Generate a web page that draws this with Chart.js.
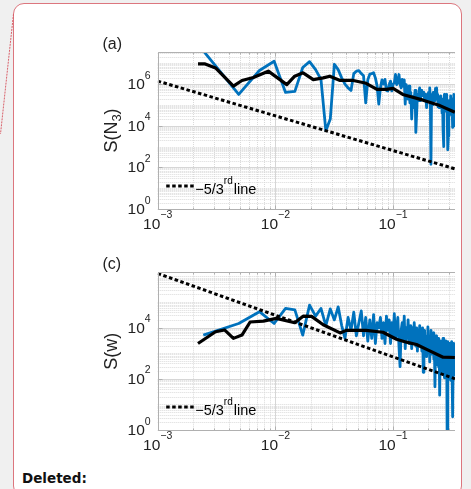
<!DOCTYPE html>
<html>
<head>
<meta charset="utf-8">
<script src="https://cdn.jsdelivr.net/npm/chart.js@4.4.1/dist/chart.umd.min.js"></script>
<style>
  html, body { margin: 0; padding: 0; width: 471px; height: 489px; overflow: hidden; background: #f0f0f0; }
  #frame { position: absolute; left: 13px; top: 3px; width: 447px; height: 492px; border: 1.5px solid #dc767e; border-radius: 11px; background: #fff; }
  #link { position: absolute; left: 0; top: 0; }
  canvas { position: absolute; }
  #c1 { left: 90px; top: 30px; }
  #c2 { left: 90px; top: 250px; }
  #deleted { position: absolute; left: 22px; top: 470px; font: bold 13.5px "DejaVu Sans", sans-serif; color: #111; }
</style>
</head>
<body>
<div id="frame"></div>
<svg id="link" width="20" height="140"><line x1="13.5" y1="14" x2="0.5" y2="134" stroke="#d9606a" stroke-width="1" stroke-dasharray="2 1"/></svg>
<canvas id="c1" width="368" height="210"></canvas>
<canvas id="c2" width="368" height="205"></canvas>
<div id="deleted">Deleted:</div>
<script>
// spectrum is on a uniform frequency grid, k * DF
const DF = 0.00244;

// (a) S(N3): raw spectrum
const blueA = [
  4e7, 3.2e5, 4.5e6, 1.26e7, 4e5, 4.5e5, 6.3e6, 1.2e7, 5e6, 1.7e6,
  5.8e3, 2.1e4, 9e6, 5e6, 2e6, 1e6, 6.6e5, 5e5, 3.2e6, 4.2e6,
  4.5e6, 3.2e6, 2.5e6, 1.26e5, 1.6e6, 3e6, 3.2e6, 3.5e6, 2e6, 8e5,
  1.1e5, 6.6e5, 1.6e6, 1e6, 1.7e6, 5e5, 4.7e5, 9.5e5, 1.4e6, 4.7e5,
  1e6, 1.15e6, 2.9e6, 9.5e5, 1.26e6, 2.9e6, 1e6, 6.6e5, 1.7e6, 8e5,
  1.6e6, 1.1e5, 9.5e5, 4e5, 1.9e5, 8e5, 1.26e5, 4e5, 2.1e4, 2.5e5,
  7.4e4, 2e5, 5e5, 4.8e3, 4e4, 3.2e5, 1.6e5, 4.5e5, 6.6e5, 1.6e5,
  5e5, 2.8e5, 4e5, 2.7e5, 4e5, 1.9e5, 3.2e5, 2e5, 7.4e4, 2.5e5,
  1.6e5, 4e5, 1.6e5, 6.6e5, 2e5, 140, 2e5, 3.2e5, 1e5, 4e5,
  1.9e5, 3.2e5, 1.6e5, 6.3e5, 2.5e5, 6.6e5, 2e5, 3.2e5, 8e4, 2e5,
  7.4e4, 2.5e5, 1e5, 2.7e5, 1.26e5, 1.9e5, 4e4, 1.6e5, 6.3e3, 1e3,
  1.6e5, 3.2e5, 8e4, 2e5, 5e4, 1.26e5, 3.2e5, 6.3e4, 1e4, 700,
  3.2e3, 7.4e4, 1.6e5, 4e4, 1e5, 2.7e5, 6.3e4, 1.26e5, 3.2e4, 1e5,
  8.3e3, 4e4, 2e5, 1.6e4, 3.2e5, 8e4, 1e4
];
// (a) smoothed spectrum
const smoothXA = [0.0022, 0.0025, 0.0031, 0.0044, 0.0052, 0.0065, 0.0087, 0.0125, 0.0146, 0.0172, 0.021, 0.0255, 0.029, 0.0355, 0.046, 0.059, 0.073, 0.088, 0.1, 0.121, 0.18, 0.25, 0.335];
const smoothA = [9.5e6, 9.5e6, 6e6, 8e5, 1.5e6, 2.1e6, 4.2e6, 9.5e5, 2.4e6, 3.5e6, 1.66e6, 2e6, 2.4e6, 1.5e6, 1.5e6, 1.1e6, 5.6e5, 5.6e5, 6.3e5, 3.2e5, 1.7e5, 9.3e4, 4.5e4];

// (c) S(w): raw spectrum
const blueC = [
  5.1e3, 1.45e4, 4.2e4, 1.45e4, 5.6e4, 4.9e4, 5.1e3, 7.6e4, 2.8e4, 5.6e4,
  1.2e4, 5.4e4, 2e4, 6.5e4, 1.2e4, 3.8e3, 2.5e4, 7.8e3, 4e4, 4.8e3,
  1.55e4, 4.5e4, 4.8e3, 2.5e4, 3e3, 2e4, 3.8e3, 3.2e4, 2.4e3, 1.55e4,
  9.8e3, 2.5e4, 3.8e3, 1.55e4, 2.4e3, 2.8e4, 7.8e3, 2e4, 2.4e3, 1.55e4,
  4.8e3, 3.5e4, 3.8e3, 9.8e3, 2.5e4, 1.9e3, 300, 7.8e3, 1.55e4, 3e3,
  2.8e4, 1.5e3, 9.8e3, 3.8e3, 2e4, 2.4e3, 6.2e3, 1.2e4, 1.5e3, 9.8e3,
  2.4e3, 1.55e4, 3.8e3, 1.9e3, 9.8e3, 1.2e3, 6.2e3, 3e3, 1.2e4, 1.9e3,
  4.8e3, 1.2e3, 9.8e3, 180, 3.8e3, 7.8e3, 1.5e3, 4.8e3, 730, 3.8e3,
  1.07e4, 1.2e3, 4.8e3, 460, 2.4e3, 7.8e3, 930, 3.8e3, 1.2e3, 6.2e3,
  580, 2.4e3, 49, 1.2e3, 4.8e3, 360, 1.9e3, 730, 3.8e3, 290,
  1.5e3, 23, 930, 3e3, 460, 1.9e3, 180, 1.2e3, 3.8e3, 360,
  1.5e3, 110, 2.4e3, 580, 3e3, 220, 1.2e3, 1, 460, 2.8e3,
  290, 1.5e3, 110, 2.4e3, 460, 88, 1.2e3, 290, 2.8e3, 180,
  930, 3.3, 580, 2.4e3, 140, 1.9e3, 360
];
// (c) smoothed spectrum
const smoothXC = [0.0022, 0.0031, 0.0037, 0.0044, 0.0052, 0.0061, 0.0079, 0.0102, 0.0146, 0.0172, 0.0203, 0.0255, 0.0355, 0.04, 0.059, 0.082, 0.107, 0.13, 0.158, 0.205, 0.266, 0.335];
const smoothC = [2.4e3, 6.9e3, 8.1e3, 3.8e3, 5.1e3, 1.66e4, 1.8e4, 2.3e4, 1.55e4, 2.8e4, 2.75e4, 1.3e4, 6.2e3, 7.8e3, 7.8e3, 6.6e3, 3.5e3, 2.7e3, 2.2e3, 1.23e3, 700, 680];

// -5/3 reference line end points
const refX = [0.001, 0.336];
const refA = [1.4e6, 85];
const refC = [1.3e6, 100];

// tick labels (exponents of ten)
const xTickExp = [-3, -2, -1];
const yTickExpA = [0, 2, 4, 6];
const yTickExpC = [0, 2, 4];

const FONT = '"Liberation Sans", Arial, sans-serif';
const TEXT = "#222";

function pts(xs, ys) {
  return ys.map((v, i) => ({ x: xs[i], y: v }));
}

function powLabel(ctx, exp, x, y, align) {
  const e = String(exp).replace("-", "\u2212");
  ctx.font = "15.5px " + FONT;
  const wb = ctx.measureText("10").width;
  ctx.font = "10.5px " + FONT;
  const we = ctx.measureText(e).width;
  const x0 = align === "right" ? x - wb - we : x - (wb + we) / 2;
  ctx.textAlign = "left";
  ctx.textBaseline = "alphabetic";
  ctx.font = "15.5px " + FONT;
  ctx.fillText("10", x0, y);
  ctx.font = "10.5px " + FONT;
  ctx.fillText(e, x0 + wb, y - 10.5);
}

function minorList(lo, hi) {
  const out = [];
  for (let d = Math.floor(Math.log10(lo)); d <= Math.ceil(Math.log10(hi)); d++) {
    for (let m = 1; m <= 9; m++) {
      const v = m * Math.pow(10, d);
      if (v >= lo && v <= hi) out.push(v);
    }
  }
  return out;
}

function isPow10(v) {
  const l = Math.log10(v);
  return Math.abs(l - Math.round(l)) < 1e-9;
}

const axesPlugin = {
  id: "matlabAxes",
  beforeDatasetsDraw(chart, args, o) {
    const { ctx, chartArea: a, scales: { x, y } } = chart;
    const yMajor = o.yExp.map((e) => Math.pow(10, e));
    ctx.save();
    ctx.lineWidth = 1;
    // minor grid
    ctx.strokeStyle = "#dadada";
    ctx.setLineDash([1, 1]);
    ctx.beginPath();
    minorList(x.min, x.max).forEach((v) => {
      if (isPow10(v)) return;
      const p = Math.round(x.getPixelForValue(v)) + 0.5;
      ctx.moveTo(p, a.top); ctx.lineTo(p, a.bottom);
    });
    minorList(y.min, y.max).forEach((v) => {
      if (yMajor.some((m) => Math.abs(m - v) < 1e-9 * m)) return;
      const p = Math.round(y.getPixelForValue(v)) + 0.5;
      ctx.moveTo(a.left, p); ctx.lineTo(a.right, p);
    });
    ctx.stroke();
    // major grid
    ctx.setLineDash([]);
    ctx.strokeStyle = "#d6d6d6";
    ctx.beginPath();
    xTickExp.forEach((e) => {
      const p = Math.round(x.getPixelForValue(Math.pow(10, e))) + 0.5;
      ctx.moveTo(p, a.top); ctx.lineTo(p, a.bottom);
    });
    yMajor.forEach((v) => {
      const p = Math.round(y.getPixelForValue(v)) + 0.5;
      ctx.moveTo(a.left, p); ctx.lineTo(a.right, p);
    });
    ctx.stroke();
    ctx.restore();
  },
  afterDatasetsDraw(chart, args, o) {
    const { ctx, chartArea: a, scales: { x, y } } = chart;
    ctx.save();
    // axes box (left, bottom, top)
    ctx.strokeStyle = "#b0b0b0";
    ctx.lineWidth = 1;
    const L = Math.round(a.left) + 0.5, B = Math.round(a.bottom) + 0.5, T = Math.round(a.top) + 0.5;
    ctx.beginPath();
    ctx.moveTo(L, T); ctx.lineTo(L, B); ctx.lineTo(a.right, B);
    ctx.moveTo(L, T); ctx.lineTo(a.right, T);
    // tick marks, pointing inwards
    minorList(x.min, x.max).forEach((v) => {
      const p = Math.round(x.getPixelForValue(v)) + 0.5;
      const len = isPow10(v) ? 4 : 2;
      ctx.moveTo(p, B); ctx.lineTo(p, B - len);
      ctx.moveTo(p, T); ctx.lineTo(p, T + len);
    });
    o.yExp.forEach((e) => {
      const p = Math.round(y.getPixelForValue(Math.pow(10, e))) + 0.5;
      ctx.moveTo(L, p); ctx.lineTo(L + 4, p);
    });
    ctx.stroke();

    ctx.fillStyle = TEXT;
    // tick labels
    xTickExp.forEach((e) => powLabel(ctx, e, x.getPixelForValue(Math.pow(10, e)), a.bottom + 19.5, "center"));
    o.yExp.forEach((e) => powLabel(ctx, e, a.left - 7, y.getPixelForValue(Math.pow(10, e)) + 5, "right"));

    // y title
    ctx.save();
    ctx.translate(20, (a.top + a.bottom) / 2);
    ctx.rotate(-Math.PI / 2);
    const parts = o.title;
    let w = 0;
    parts.forEach((p) => { ctx.font = (p.sub ? "13px " : "18px ") + FONT; w += ctx.measureText(p.t).width; });
    let cx = -w / 2;
    parts.forEach((p) => {
      ctx.font = (p.sub ? "13px " : "18px ") + FONT;
      ctx.fillText(p.t, cx, p.sub ? 10.5 : 6.5);
      cx += ctx.measureText(p.t).width;
    });
    ctx.restore();

    // panel label
    ctx.font = "16px " + FONT;
    ctx.textAlign = "left";
    ctx.fillText(o.panel, 12.5, a.top - 3.5);

    // legend
    const ly = a.bottom - 23;
    ctx.strokeStyle = "#000";
    ctx.lineWidth = 3;
    ctx.setLineDash([3.5, 2.5]);
    ctx.beginPath();
    ctx.moveTo(a.left + 8.5, ly); ctx.lineTo(a.left + 36, ly);
    ctx.stroke();
    ctx.setLineDash([]);
    let tx = a.left + 37.5;
    const tb = a.bottom - 15.5;
    ctx.fillStyle = "#000";
    ctx.font = "14.5px " + FONT;
    ctx.fillText("\u22125/3", tx, tb);
    tx += ctx.measureText("\u22125/3").width;
    ctx.font = "10px " + FONT;
    ctx.fillText("rd", tx, tb - 10);
    tx += ctx.measureText("rd").width + 1;
    ctx.font = "14.5px " + FONT;
    ctx.fillText("line", tx, tb);
    ctx.restore();
  },
};

function makeChart(id, blue, smoothX, smooth, ref, yMax, pad, opts) {
  return new Chart(document.getElementById(id), {
    type: "line",
    data: {
      datasets: [
        { data: pts(smoothX, smooth), borderColor: "#000", borderWidth: 3.2, pointRadius: 0, order: 1, borderJoinStyle: "round" },
        { data: pts(refX, ref), borderColor: "#000", borderWidth: 3, borderDash: [3.5, 2.5], pointRadius: 0, order: 2 },
        { data: blue.map((v, i) => ({ x: (i + 1) * DF, y: v })), borderColor: "#0072BD", borderWidth: 2.8, pointRadius: 0, order: 3, borderJoinStyle: "round" },
      ],
    },
    options: {
      responsive: false,
      animation: false,
      events: [],
      layout: { padding: pad },
      plugins: { legend: { display: false }, tooltip: { enabled: false }, matlabAxes: opts },
      scales: {
        x: { type: "logarithmic", min: 0.001, max: 0.336, display: false },
        y: { type: "logarithmic", min: 1, max: yMax, display: false },
      },
    },
    plugins: [axesPlugin],
  });
}

makeChart("c1", blueA, smoothXA, smoothA, refA, 3.5e7,
  { left: 67.7, right: 3, top: 22, bottom: 31 },
  { yExp: yTickExpA, panel: "(a)", title: [{ t: "S(N" }, { t: "3", sub: true }, { t: ")" }] });

makeChart("c2", blueC, smoothXC, smoothC, refC, 1.45e6,
  { left: 67.7, right: 3, top: 22.3, bottom: 25 },
  { yExp: yTickExpC, panel: "(c)", title: [{ t: "S(w)" }] });
</script>
</body>
</html>
